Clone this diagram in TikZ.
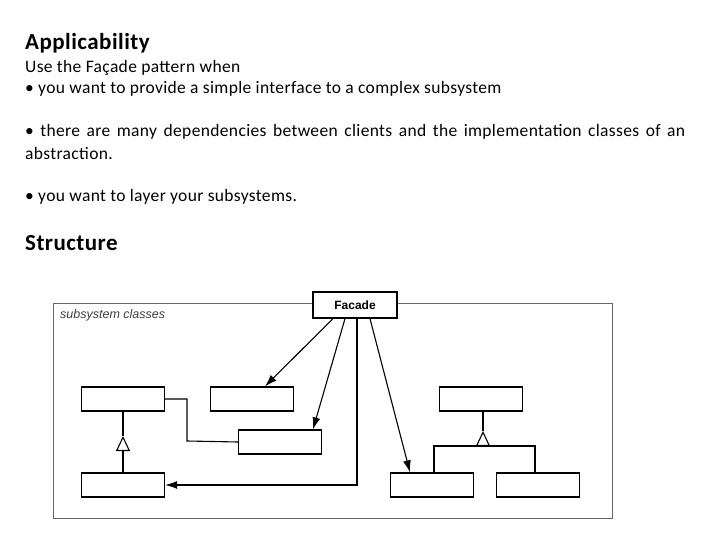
\documentclass[tikz,border=0pt]{standalone}
\usepackage{fontspec}
\setmainfont[LetterSpace=2]{Carlito}
\newfontfamily\umlfont{Liberation Sans}
\usetikzlibrary{positioning,arrows.meta}

\begin{document}
\begin{tikzpicture}[x=1pt,y=-1pt,
        classbox/.style={draw, line width=1.3pt, minimum width=83pt, minimum height=24pt, inner sep=0pt},
        uses/.style={draw, line width=1.1pt, -{Latex[length=12pt,width=8pt]}},
        link/.style={draw, line width=1.1pt},
        inherits/.style={draw, line width=1.1pt, -{Triangle[open,fill=white,length=15pt,width=14pt]}},
        bodytext/.style={anchor=base west, inner sep=0pt, font=\fontsize{17.5}{23}\selectfont},
        headtext/.style={anchor=base west, inner sep=0pt, font=\fontsize{23}{27}\selectfont\bfseries},
    ]
    \useasboundingbox (0,0) rectangle (720,540);

    %Text: headings and bullets
    \node[headtext] (head1) at (25,50) {Applicability};
    \node[bodytext] (line1) at (25,73) {Use the Façade pattern when};
    \node[bodytext] (line2) at (25,94) {• you want to provide a simple interface to a complex subsystem};
    \node[bodytext, text width=660pt, align=justify] (line3) at (25,137) {• there are many dependencies between clients and the implementation classes of an \mbox{abstraction.}};
    \node[bodytext] (line4) at (25,202) {• you want to layer your subsystems.};
    \node[headtext] (head2) at (25,251) {Structure};

    %Frame: subsystem classes
    \node[draw=black!60, line width=1.3pt, minimum width=559pt, minimum height=215pt, anchor=north west, inner sep=0pt] (frame) at (53,303) {};
    \node[anchor=north west, font=\umlfont\itshape\fontsize{12.5}{14}\selectfont, text=black!75, inner sep=1pt] (framelabel) at (59,308) {subsystem classes};

    %Nodes: classes
    \node[classbox, fill=white, minimum width=84pt, minimum height=26pt, font=\umlfont\bfseries\fontsize{12}{14}\selectfont] (facade) at (355,305) {Facade};
    \node[classbox] (lefttop)  at (123,399) {};
    \node[classbox] (leftbot)  at (123,485) {};
    \node[classbox] (midtop)   at (252,399) {};
    \node[classbox] (midlow)   at (280,442) {};
    \node[classbox] (righttop) at (481,399) {};
    \node[classbox] (rightbl)  at (432,485) {};
    \node[classbox] (rightbr)  at (538,485) {};

    \coordinate (bend1) at (187,399);
    \coordinate (bend2) at (187,441);
    \coordinate (lefttip) at (123,436);
    \coordinate (righttip) at (483,431);
    \coordinate (bar)   at (483,446);

    %Connections: facade to subsystem
    \path[uses] ([xshift=-22pt]facade.south) -- ([xshift=13pt]midtop.north);
    \path[uses] ([xshift=-10pt]facade.south) -- ([xshift=33pt]midlow.north);
    \path[uses] ([xshift=2pt]facade.south) |- (leftbot.east);
    \path[uses] ([xshift=15pt]facade.south) -- ([xshift=-22pt]rightbl.north);

    %Connections: inside the subsystem
    \path[link] (lefttop.east) -- (bend1) -- (bend2) -- (midlow.west);
    \path[link] (lefttip) -- (lefttop.south);
    \path[inherits] (leftbot.north) -- (lefttip);
    \path[link] ([xshift=2pt]rightbl.north) |- (bar) -| ([xshift=-3pt]rightbr.north);
    \path[link] (righttip) -- ([xshift=2pt]righttop.south);
    \path[inherits] (bar) -- (righttip);
\end{tikzpicture}
\end{document}
